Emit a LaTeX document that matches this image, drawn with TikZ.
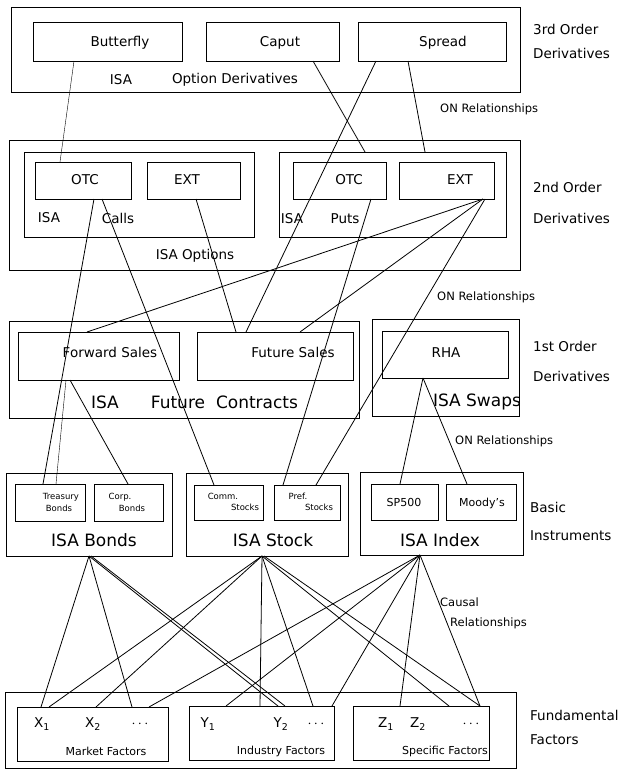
\documentclass[tikz,border=0pt]{standalone}
\usepackage{fontspec}
\setmainfont{DejaVu Sans}
\usetikzlibrary{calc}
\tikzset{
  bx/.style={draw, line width=0.9pt, inner sep=0pt, outer sep=0pt},
  lbl/.style={inner sep=0pt, font=\fontsize{13.5}{15}\selectfont},
  side/.style={inner sep=0pt, anchor=west, font=\fontsize{13.5}{15}\selectfont},
  rel/.style={inner sep=0pt, anchor=west, font=\fontsize{11.5}{13}\selectfont},
  big/.style={inner sep=0pt, font=\fontsize{17}{19}\selectfont},
  mid/.style={inner sep=0pt, font=\fontsize{11}{12}\selectfont},
  small/.style={inner sep=0pt, font=\fontsize{8.5}{9}\selectfont},
  conn/.style={line width=0.8pt},
  thinconn/.style={line width=0.4pt},
}
\newcommand{\bx}[5]{\node[bx, minimum width={(#4-#2)*1pt}, minimum height={(#5-#3)*1pt}] (#1) at ({(#2+#4)/2},{(#3+#5)/2}) {};}
\begin{document}
\begin{tikzpicture}[x=1pt,y=-1pt]
\useasboundingbox[fill=white] (0,0) rectangle (618,771);
% ---------- 3rd order
\bx{od}{11}{7}{520}{92}
\bx{bfly}{33}{22}{182}{61}
\bx{caput}{206}{22}{339}{61}
\bx{spread}{358}{22}{506}{61}
\node[lbl] (tbfly) at (120,43) {Butterfly};
\node[lbl] (tcaput) at (280,43) {Caput};
\node[lbl] (tspread) at (443,43) {Spread};
\node[lbl] (tisa1) at (121,80) {ISA};
\node[lbl] (topt) at (235,80) {Option Derivatives};
\node[side] (s3a) at (533,29) {3rd Order};
\node[side] (s3b) at (533,53) {Derivatives};
\node[rel] (on1) at (440,109) {ON Relationships};
% ---------- 2nd order
\bx{opts}{9}{140}{520}{270}
\bx{calls}{24}{152}{254}{237}
\bx{puts}{279}{152}{506}{237}
\bx{otcc}{35}{162}{131}{199}
\bx{extc}{147}{162}{240}{199}
\bx{otcp}{293}{162}{386}{199}
\bx{extp}{399}{162}{494}{199}
\node[lbl] (totcc) at (85,180) {OTC};
\node[lbl] (textc) at (187,180) {EXT};
\node[lbl] (totcp) at (349,180) {OTC};
\node[lbl] (textp) at (460,180) {EXT};
\node[lbl] (tisac) at (49,218) {ISA};
\node[lbl] (tcalls) at (118,218) {Calls};
\node[lbl] (tisap) at (292,219) {ISA};
\node[lbl] (tputs) at (345,219) {Puts};
\node[lbl] (topts) at (195,256) {ISA Options};
\node[side] (s2a) at (533,187) {2nd Order};
\node[side] (s2b) at (533,218) {Derivatives};
\node[rel] (on2) at (437,297) {ON Relationships};
% ---------- 1st order
\bx{fc}{9}{321}{359}{418}
\bx{fwd}{18}{332}{179}{380}
\bx{fut}{197}{332}{353}{380}
\bx{swaps}{372}{319}{519}{416}
\bx{rha}{382}{331}{508}{378}
\node[lbl] (tfwd) at (110,352) {Forward Sales};
\node[lbl] (tfut) at (293,352) {Future Sales};
\node[lbl] (trha) at (446,353) {RHA};
\node[big] (tisaf) at (105,402) {ISA};
\node[big] (tfuture) at (178,402) {Future};
\node[big] (tcontr) at (257,402) {Contracts};
\node[big] (tswaps) at (477,402) {ISA Swaps};
\node[side] (s1a) at (533,346) {1st Order};
\node[side] (s1b) at (533,376) {Derivatives};
\node[rel] (on3) at (455,441) {ON Relationships};
% ---------- basic instruments
\bx{bonds}{6}{473}{172}{556}
\bx{treas}{15}{484}{85}{521}
\bx{corp}{94}{484}{163}{521}
\bx{stock}{186}{473}{348}{556}
\bx{comm}{194}{485}{263}{520}
\bx{pref}{274}{485}{340}{520}
\bx{index}{360}{472}{523}{555}
\bx{sp}{371}{484}{438}{520}
\bx{moody}{446}{484}{516}{520}
\node[small] (ttr1) at (61,497) {Treasury};
\node[small] (ttr2) at (59,508) {Bonds};
\node[small] (tco1) at (120,497) {Corp.};
\node[small] (tco2) at (132,508) {Bonds};
\node[small] (tcm1) at (223,496) {Comm.};
\node[small] (tcm2) at (245,507) {Stocks};
\node[small] (tpr1) at (298,496) {Pref.};
\node[small] (tpr2) at (319,507) {Stocks};
\node[mid] (tsp) at (404,502) {SP500};
\node[mid] (tmoody) at (482,503) {Moody's};
\node[big] (tbonds) at (94,540) {ISA Bonds};
\node[big] (tstock) at (273,540) {ISA Stock};
\node[big] (tindex) at (440,540) {ISA Index};
\node[side] (sba) at (530,507) {Basic};
\node[side] (sbb) at (530,536) {Instruments};
\node[rel] (caus1) at (440,602) {Causal};
\node[rel] (caus2) at (450,623) {Relationships};
% ---------- fundamental factors
\bx{fund}{5}{692}{516}{768}
\bx{mkt}{17}{707}{168}{761}
\bx{ind}{189}{706}{334}{760}
\bx{spec}{353}{706}{489}{760}
\node[lbl] (tx1) at (42,724) {X\textsubscript{1}};
\node[lbl] (tx2) at (93,724) {X\textsubscript{2}};
\node[lbl] (tx3) at (140,724) {$\cdots$};
\node[mid] (tmkt) at (106,751) {Market Factors};
\node[lbl] (ty1) at (208,724) {Y\textsubscript{1}};
\node[lbl] (ty2) at (281,724) {Y\textsubscript{2}};
\node[lbl] (ty3) at (316,724) {$\cdots$};
\node[mid] (tind) at (281,751) {Industry Factors};
\node[lbl] (tz1) at (386,724) {Z\textsubscript{1}};
\node[lbl] (tz2) at (418,724) {Z\textsubscript{2}};
\node[lbl] (tz3) at (471,724) {$\cdots$};
\node[mid] (tspec) at (445,751) {Specific Factors};
\node[side] (sfa) at (530,715) {Fundamental};
\node[side] (sfb) at (530,740) {Factors};
% ---------- connectors: 3rd -> 2nd
\draw[thinconn] (bfly.south -| 74,0) -- (otcc.north -| 60,0);
\draw[conn] (caput.south -| 313,0) -- (puts.north -| 365,0);
\draw[conn] (spread.south -| 376,0) -- (fut.north -| 246,0);
\draw[conn] (spread.south -| 408,0) -- (puts.north -| 425,0);
% 2nd -> 1st / basic
\draw[conn] (otcc.south -| 94,0) -- (treas.north -| 43,0);
\draw[conn] (otcc.south -| 102,0) -- (comm.north -| 214,0);
\draw[conn] (extc.south -| 196,0) -- (fut.north -| 236,0);
\draw[conn] (extp.south -| 483,0) -- (fwd.north -| 87,0);
\draw[conn] (extp.south -| 483,0) -- (fut.north -| 300,0);
\draw[conn] (extp.south -| 485,0) -- (pref.north -| 316,0);
\draw[conn] (otcp.south -| 371,0) -- (pref.north -| 283,0);
% 1st -> basic
\draw[thinconn] (fwd.south -| 66,0) -- (treas.north -| 56,0);
\draw[conn] (fwd.south -| 70,0) -- (corp.north -| 128,0);
\draw[conn] (rha.south -| 423,0) -- (sp.north -| 400,0);
\draw[conn] (rha.south -| 423,0) -- (moody.north -| 467,0);
% causal
\draw[conn] (bonds.south -| 89,0) -- (mkt.north -| 41,0);
\draw[conn] (bonds.south -| 89,0) -- (mkt.north -| 132,0);
\draw[conn] (bonds.south -| 89,0) -- (ind.north -| 278,0);
\draw[conn] (bonds.south -| 91,0) -- (ind.north -| 285,0);
\draw[conn] (stock.south -| 262,0) -- (mkt.north -| 49,0);
\draw[conn] (stock.south -| 262,0) -- (mkt.north -| 96,0);
\draw[conn] (stock.south -| 262,0) -- (ind.north -| 260,0);
\draw[conn] (stock.south -| 262,0) -- (ind.north -| 313,0);
\draw[conn] (stock.south -| 262,0) -- (spec.north -| 449,0);
\draw[conn] (stock.south -| 264,0) -- (spec.north -| 480,0);
\draw[conn] (index.south -| 420,0) -- (mkt.north -| 149,0);
\draw[conn] (index.south -| 420,0) -- (ind.north -| 226,0);
\draw[conn] (index.south -| 420,0) -- (ind.north -| 332,0);
\draw[conn] (index.south -| 420,0) -- (spec.north -| 400,0);
\draw[conn] (index.south -| 420,0) -- (spec.north -| 480,0);
\end{tikzpicture}
\end{document}
